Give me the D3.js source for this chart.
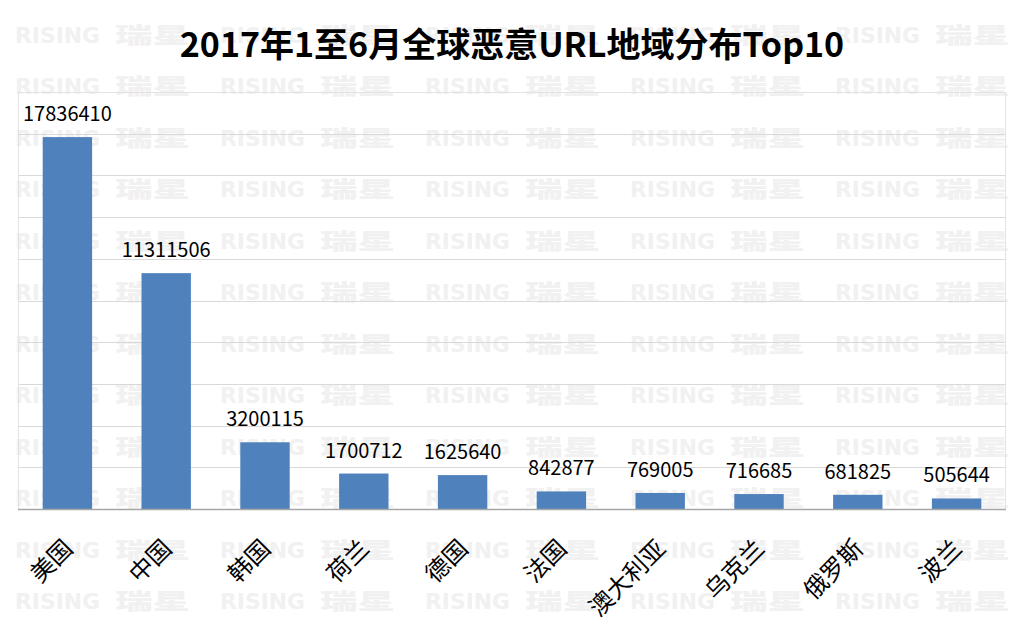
<!DOCTYPE html>
<html>
<head>
<meta charset="utf-8">
<script src="https://cdn.jsdelivr.net/npm/d3@7/dist/d3.min.js"></script>
<style>
  body { margin: 0; background: #fff; }
  text { font-family: "Noto Sans CJK SC", "Noto Sans", sans-serif; }
</style>
</head>
<body>
<div id="chart"></div>
<script>
let countries = ["美国", "中国", "韩国", "荷兰", "德国", "法国", "澳大利亚", "乌克兰", "俄罗斯", "波兰"],
  urlCounts = [17836410, 11311506, 3200115, 1700712, 1625640, 842877, 769005, 716685, 681825, 505644],
  yTicks = [0, 2000000, 4000000, 6000000, 8000000, 10000000, 12000000, 14000000, 16000000, 18000000, 20000000],
  title = "2017年1至6月全球恶意URL地域分布Top10";

let draw = () => {
  var margin = { top: 92, right: 18, bottom: 131, left: 18 },
    width = 1024 - margin.left - margin.right,
    height = 640 - margin.top - margin.bottom;

  var root = d3
    .select("#chart")
    .append("svg")
    .attr("width", 1024)
    .attr("height", 640);

  // watermark behind everything
  var wm = root.append("g").attr("fill", "#f1f1f1");
  for (var r = 0; r < 12; r++) {
    for (var c = 0; c < 5; c++) {
      var wx = 15 + c * 205,
        wy = 35 + r * 51.5;
      wm.append("text")
        .attr("x", wx)
        .attr("y", wy)
        .attr("dy", "0.35em")
        .attr("textLength", 85)
        .attr("lengthAdjust", "spacingAndGlyphs")
        .style("font-family", "DejaVu Sans")
        .style("font-weight", "bold")
        .style("font-size", "22px")
        .text("RISING");
      wm.append("text")
        .attr("x", wx + 100)
        .attr("y", wy)
        .attr("dy", "0.35em")
        .attr("textLength", 75)
        .attr("lengthAdjust", "spacingAndGlyphs")
        .style("font-weight", "900")
        .style("font-size", "22px")
        .text("瑞星");
    }
  }

  root
    .append("text")
    .attr("x", 512)
    .attr("y", 57)
    .attr("text-anchor", "middle")
    .style("font-size", "34px")
    .style("font-weight", "bold")
    .attr("fill", "#000")
    .text(title);

  var svg = root
    .append("g")
    .attr("transform", `translate(${margin.left}, ${margin.top})`);

  var Xaxis = d3.scaleBand().range([0, width]).domain(countries).paddingInner(0.5).paddingOuter(0.25),
    Yaxis = d3.scaleLinear().range([height, 0]).domain([0, 20000000]);

  // grid
  svg
    .selectAll(".grid")
    .data(yTicks.slice(1))
    .enter()
    .append("line")
    .attr("x1", 0)
    .attr("x2", width)
    .attr("y1", (d) => Math.round(Yaxis(d)) + 0.5)
    .attr("y2", (d) => Math.round(Yaxis(d)) + 0.5)
    .attr("stroke", "#d9d9d9")
    .attr("stroke-width", 1);

  svg
    .append("rect")
    .attr("x", 0.5)
    .attr("y", 0.5)
    .attr("width", width - 1)
    .attr("height", height)
    .attr("fill", "none")
    .attr("stroke", "#e3e3e3");

  var data = countries.map((d, i) => ({ name: d, val: urlCounts[i] }));

  svg
    .selectAll(".bar")
    .data(data)
    .enter()
    .append("rect")
    .attr("x", (d) => Xaxis(d.name))
    .attr("y", (d) => Yaxis(d.val))
    .attr("width", Xaxis.bandwidth())
    .attr("height", (d) => height - Yaxis(d.val))
    .attr("fill", "#4f81bd");

  // baseline
  svg
    .append("line")
    .attr("x1", 0)
    .attr("x2", width)
    .attr("y1", height + 0.5)
    .attr("y2", height + 0.5)
    .attr("stroke", "#a6a6a6")
    .attr("stroke-width", 1.5);

  // value labels
  svg
    .selectAll(".val")
    .data(data)
    .enter()
    .append("text")
    .attr("x", (d) => Xaxis(d.name) + Xaxis.bandwidth() / 2)
    .attr("y", (d) => Yaxis(d.val) - 16)
    .attr("text-anchor", "middle")
    .style("font-size", "20px")
    .attr("fill", "#000")
    .text((d) => d.val);

  // category labels, rotated
  svg
    .selectAll(".cat")
    .data(data)
    .enter()
    .append("text")
    .attr("transform", (d) => `translate(${Xaxis(d.name) + Xaxis.bandwidth() / 2 + 1}, ${height + 35}) rotate(-45)`)
    .attr("text-anchor", "end")
    .attr("dy", "0.35em")
    .style("font-size", "24px")
    .attr("fill", "#000")
    .text((d) => d.name);
};

draw();
</script>
</body>
</html>
